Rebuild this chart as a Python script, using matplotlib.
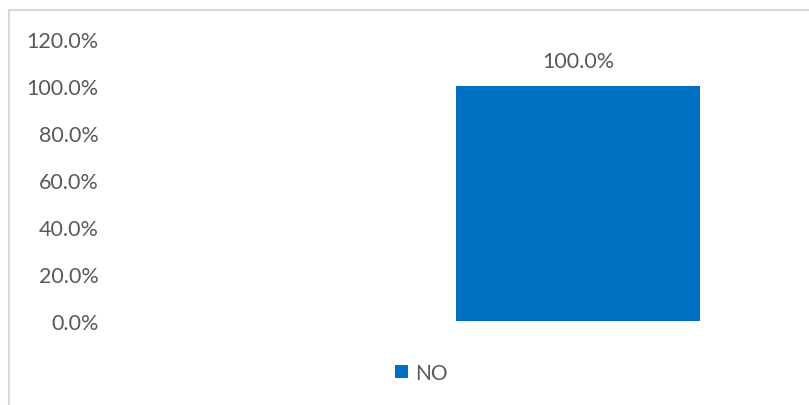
import matplotlib.pyplot as plt
from matplotlib.patches import Rectangle
from matplotlib.ticker import PercentFormatter

# data
categories = ["", ""]
series_name = "NO"
values = [None, 1.0]
y_ticks = [0.0, 0.2, 0.4, 0.6, 0.8, 1.0, 1.2]

bar_color = "#0070C0"
text_color = "#595959"
fs = 15.5

plt.rcParams["font.family"] = ["Lato", "DejaVu Sans"]

W, H = 809, 406
fig = plt.figure(figsize=(W / 100, H / 100), dpi=100)
ax = fig.add_axes([110 / W, 84 / H, (734 - 110) / W, (366 - 84) / H])

xs = [i for i, v in enumerate(values) if v is not None]
ys = [v for v in values if v is not None]
bars = ax.bar(xs, ys, width=0.785, color=bar_color, label=series_name, zorder=2)
ax.bar_label(bars, labels=[f"{v * 100:.1f}%" for v in ys], padding=11,
             fontsize=fs, color=text_color)

ax.set_xlim(-0.5, len(categories) - 0.5)
ax.set_ylim(0, 1.2)
ax.set_yticks(y_ticks)
ax.yaxis.set_major_formatter(PercentFormatter(1.0, decimals=1))
ax.set_xticks([])
ax.tick_params(axis="y", length=0, pad=8, labelsize=fs, labelcolor=text_color)
for spine in ax.spines.values():
    spine.set_visible(False)

fig.legend(handles=[bars], labels=[series_name], loc="center",
           bbox_to_anchor=(421 / W, 1 - 374 / H), frameon=False, fontsize=15,
           labelcolor=text_color, handlelength=0.62, handleheight=0.62,
           handletextpad=0.35)

# chart area border
fig.patches.append(Rectangle((9 / W, -0.1), 1.2, 1 - 11 / H + 0.1,
                             transform=fig.transFigure, fill=False,
                             edgecolor="#d9d9d9", linewidth=1.5))

fig.savefig("out.png", dpi=100)
